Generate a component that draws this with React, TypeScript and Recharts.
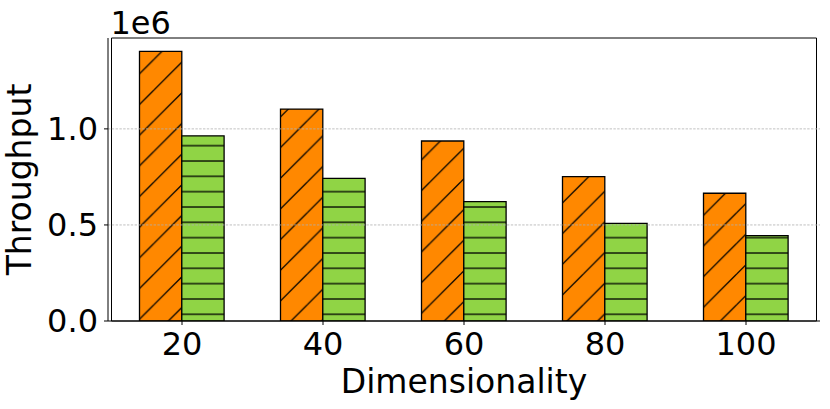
import React from 'react';
import { BarChart, Bar, XAxis, YAxis, ReferenceLine, ReferenceArea, Label } from 'recharts';

const categories = ['20', '40', '60', '80', '100'];
const seriesOrange = [1.403e6, 1.103e6, 0.937e6, 0.751e6, 0.665e6];
const seriesGreen = [0.964e6, 0.742e6, 0.621e6, 0.508e6, 0.444e6];
const yTicks = [0, 0.5e6, 1.0e6];
const gridValues = [0.5e6, 1.0e6];
const yMax = 1.473e6;
const xLabel = 'Dimensionality';
const yLabel = 'Throughput';
const offsetLabel = '1e6';

const data = categories.map((c, i) => ({ dim: c, a: seriesOrange[i], b: seriesGreen[i] }));

const ORANGE = '#ff8800';
const GREEN = '#90d445';
const FONT = 'DejaVu Sans';
const DIAG = 30.67;
const DIAG_C = 29.3;
const HSTEP = 15.33;
const HOFF = 7.7;

const tickStyle = { fill: '#000', fontSize: 32, fontFamily: FONT };

export default function App() {
  return (
    <div style={{ position: 'absolute', left: 0, top: 0, width: 830, height: 409, background: '#fff' }}>
      <BarChart
        width={830}
        height={409}
        data={data}
        margin={{ top: 38, right: 10, bottom: 0, left: 0 }}
        barGap={0}
      >
        <defs>
          <pattern id="hatchA" patternUnits="userSpaceOnUse" width={DIAG} height={DIAG}>
            <rect x={0} y={0} width={DIAG} height={DIAG} fill={ORANGE} />
            {[DIAG_C - DIAG, DIAG_C, DIAG_C + DIAG].map((c, i) => (
              <line key={i} x1={-5} y1={c + 5} x2={c + 5} y2={-5} stroke="#000" strokeWidth={1.3} />
            ))}
          </pattern>
          <pattern id="hatchB" patternUnits="userSpaceOnUse" width={20} height={HSTEP}>
            <rect x={0} y={0} width={20} height={HSTEP} fill={GREEN} />
            <line x1={-1} y1={HOFF} x2={21} y2={HOFF} stroke="#000" strokeWidth={1.3} />
          </pattern>
        </defs>
        <XAxis
          dataKey="dim"
          height={88}
          padding={{ left: 3.5, right: 3.5 }}
          tick={tickStyle}
          tickSize={4}
          tickMargin={7}
          tickLine={{ stroke: '#000' }}
          axisLine={{ stroke: '#000' }}
          interval={0}
        >
          <Label
            content={({ viewBox }: any) => (
              <text
                x={viewBox.x + viewBox.width / 2}
                y={viewBox.y + 72}
                textAnchor="middle"
                fontSize={33}
                fontFamily={FONT}
                fill="#000"
              >
                {xLabel}
              </text>
            )}
          />
        </XAxis>
        <YAxis
          width={108}
          domain={[0, yMax]}
          ticks={yTicks}
          tickFormatter={(v: number) => (v / 1e6).toFixed(1)}
          tick={tickStyle}
          tickSize={4}
          tickMargin={6}
          tickLine={{ stroke: '#000' }}
          axisLine={{ stroke: '#000' }}
          allowDataOverflow
        >
          <Label
            content={({ viewBox }: any) => {
              const cx = 31;
              const cy = viewBox.y + viewBox.height / 2;
              return (
                <text
                  x={cx}
                  y={cy}
                  textAnchor="middle"
                  transform={`rotate(-90 ${cx} ${cy})`}
                  fontSize={33}
                  fontFamily={FONT}
                  fill="#000"
                >
                  {yLabel}
                </text>
              );
            }}
          />
        </YAxis>
        <Bar dataKey="a" fill="url(#hatchA)" stroke="#000" strokeWidth={1.3} barSize={42.3} isAnimationActive={false} />
        <Bar dataKey="b" fill="url(#hatchB)" stroke="#000" strokeWidth={1.3} barSize={42.3} isAnimationActive={false} />
        {gridValues.map((v) => (
          <ReferenceLine key={v} y={v} stroke="#b0b0b0" strokeWidth={0.8} strokeDasharray="2.4 1.4" />
        ))}
        <ReferenceArea y1={0} y2={yMax} fill="none" fillOpacity={0} stroke="#000" strokeWidth={1} ifOverflow="visible">
          <Label
            content={({ viewBox }: any) => (
              <text
                x={viewBox.x - 1}
                y={viewBox.y - 4}
                textAnchor="start"
                fontSize={32}
                fontFamily={FONT}
                fill="#000"
              >
                {offsetLabel}
              </text>
            )}
          />
        </ReferenceArea>
      </BarChart>
    </div>
  );
}
